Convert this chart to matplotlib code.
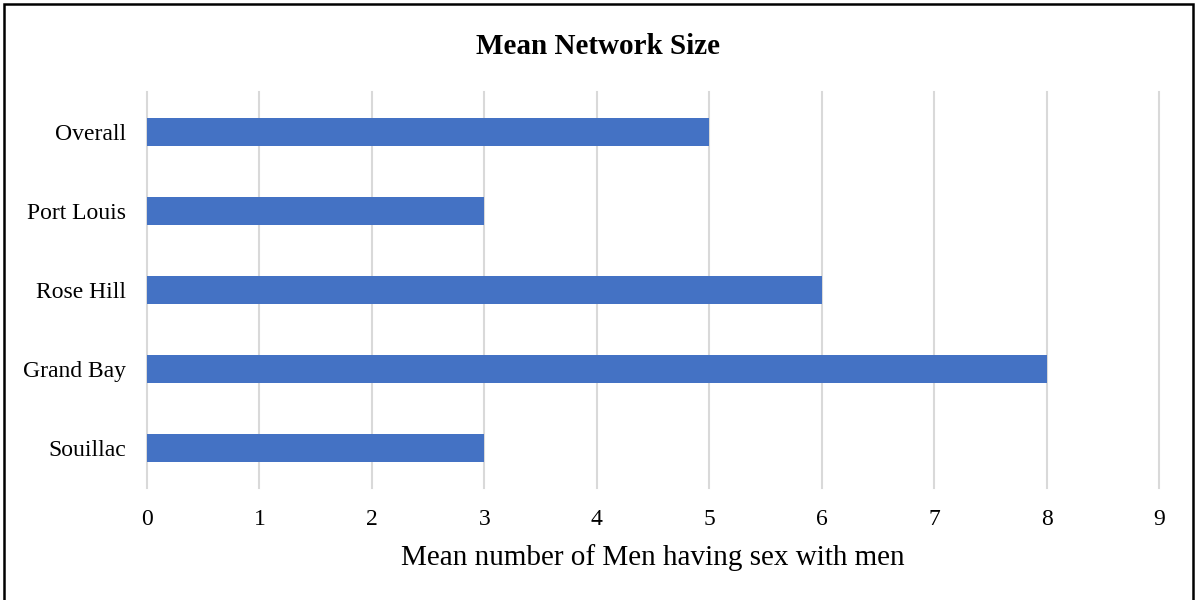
import matplotlib
matplotlib.use("Agg")
import matplotlib.pyplot as plt
from matplotlib.patches import Rectangle

categories = ["Overall", "Port Louis", "Rose Hill", "Grand Bay", "Souillac"]
mean_network_size = [5, 3, 6, 8, 3]
x_ticks = [0, 1, 2, 3, 4, 5, 6, 7, 8, 9]

plt.rcParams["font.family"] = ["Liberation Serif", "DejaVu Serif"]

fig = plt.figure(figsize=(11.96, 6.0), dpi=100)
ax = fig.add_axes([147 / 1196, 1 - 488 / 600, (1159 - 147) / 1196, (488 - 92) / 600])

positions = list(range(len(categories)))
ax.barh(positions, mean_network_size, height=0.353, color="#4472C4", zorder=3)

ax.set_ylim(len(categories) - 0.5, -0.5)
ax.set_yticks(positions)
ax.set_yticklabels(categories, fontsize=17)
ax.set_xlim(0, 9)
ax.set_xticks(x_ticks)
ax.set_xticklabels([str(t) for t in x_ticks], fontsize=17)
ax.tick_params(axis="both", length=0, colors="#000000")
ax.tick_params(axis="y", pad=15)
ax.tick_params(axis="x", pad=15)

ax.grid(axis="x", color="#D9D9D9", linewidth=1.5, zorder=0)
ax.grid(axis="y", visible=False)
for line in ax.get_xgridlines():
    line.set_clip_on(False)
for side in ax.spines.values():
    side.set_visible(False)

ax.set_xlabel("Mean number of Men having sex with men", fontsize=21, labelpad=10)
fig.text(0.5, 1 - 47 / 600, "Mean Network Size", ha="center", va="center",
         fontsize=21, fontweight="bold")

# outer frame around the chart area
fig.patches.append(Rectangle((4 / 1196, -0.01), (1193 - 4) / 1196, 1 - 4 / 600 + 0.01,
                             transform=fig.transFigure, fill=False,
                             edgecolor="#000000", linewidth=1.8))

fig.savefig("out.png", dpi=100)
